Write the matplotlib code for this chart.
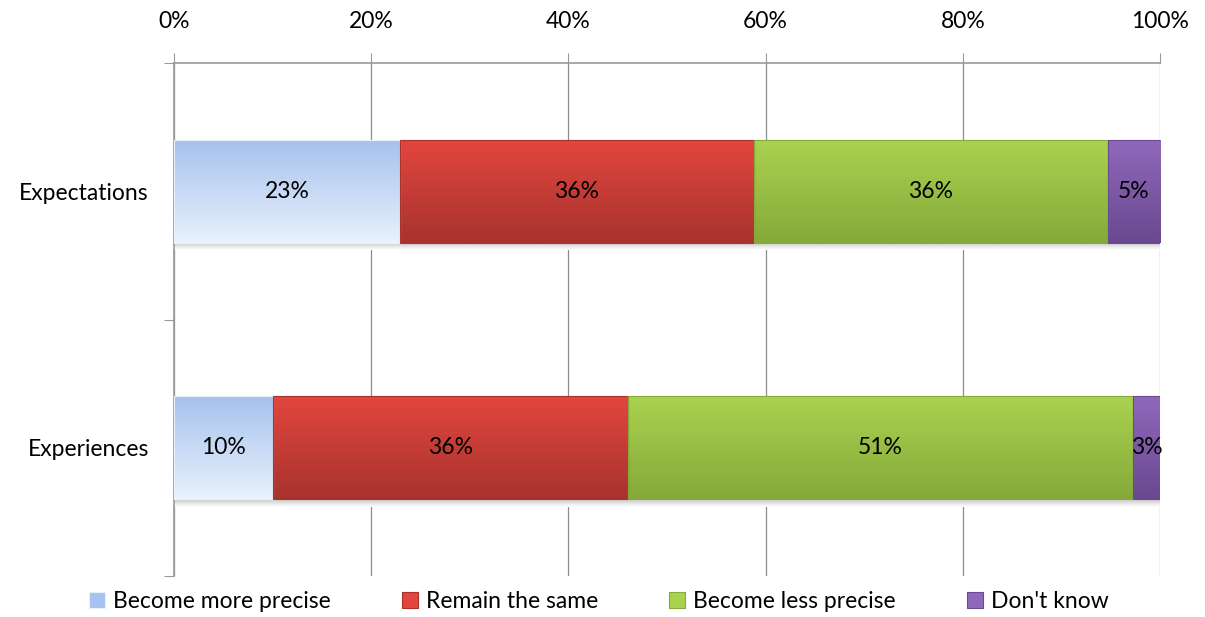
import matplotlib

matplotlib.use("Agg")

import matplotlib.pyplot as plt
import numpy as np
from matplotlib.colors import LinearSegmentedColormap
from matplotlib.patches import Patch

plt.rcParams["font.family"] = ["Lato", "DejaVu Sans"]

categories = ["Expectations", "Experiences"]
series = ["Become more precise", "Remain the same", "Become less precise", "Don't know"]
values = [
    [22.9, 35.9, 35.9, 5.3],   # Expectations
    [10.0, 36.0, 51.3, 2.7],   # Experiences
]
labels = [
    ["23%", "36%", "36%", "5%"],
    ["10%", "36%", "51%", "3%"],
]
# gradient colours, top -> bottom
grad_colors = [
    ("#a7c2ee", "#e9f1fc"),
    ("#e2463f", "#a8332d"),
    ("#aad24f", "#86a93a"),
    ("#9068bb", "#69498f"),
]
xticks = [0, 20, 40, 60, 80, 100]
fs = 16.5

fig = plt.figure(figsize=(12.05, 6.17), dpi=100)
ax = fig.add_axes([174 / 1205, 41 / 617, 986 / 1205, 513 / 617])

# category i sits at y = i (top first)
ypos = [0, 1]
bar_h = 0.4

for i, row in enumerate(values):
    y = ypos[i]
    left = 0
    # soft shadow below bar
    sh = LinearSegmentedColormap.from_list("s", ["#c8c8c8", "#ffffff"])
    ax.imshow(np.linspace(0, 1, 16).reshape(-1, 1), cmap=sh, aspect="auto",
              extent=(0, sum(row), y + bar_h / 2 + 0.03, y + bar_h / 2), zorder=2)
    for j, v in enumerate(row):
        cmap = LinearSegmentedColormap.from_list("g", grad_colors[j])
        grad = np.linspace(0, 1, 64).reshape(-1, 1)
        ax.imshow(grad, cmap=cmap, aspect="auto", interpolation="bilinear",
                  extent=(left, left + v, y + bar_h / 2, y - bar_h / 2), zorder=3)
        ax.add_patch(plt.Rectangle((left, y - bar_h / 2), v, bar_h, fill=False,
                                   edgecolor=grad_colors[j][1], lw=0.8, zorder=4))
        ax.text(left + v / 2, y, labels[i][j], ha="center", va="center",
                fontsize=fs, color="black", zorder=5)
        left += v

ax.set_aspect("auto")
ax.set_xlim(0, 100)
ax.set_ylim(1.5, -0.5)

ax.xaxis.tick_top()
ax.set_xticks(xticks)
ax.set_xticklabels([f"{t}%" for t in xticks], fontsize=fs)
ax.tick_params(axis="x", length=7, color="#999999", pad=15)
ax.set_yticks([-0.5, 0.5, 1.5])
ax.set_yticklabels([])
ax.set_yticks(ypos, minor=True)
ax.set_yticklabels(categories, minor=True, fontsize=fs)
ax.tick_params(axis="y", which="major", length=7, color="#999999")
ax.tick_params(axis="y", which="minor", length=0, pad=18)

ax.grid(axis="x", color="#8c8c8c", lw=0.9, zorder=0)
ax.set_axisbelow(True)
for side in ["right", "bottom"]:
    ax.spines[side].set_visible(False)
for side in ["left", "top"]:
    ax.spines[side].set_color("#999999")
    ax.spines[side].set_linewidth(1.2)

handles = [Patch(facecolor=c[0], edgecolor=c[1], lw=0.8) for c in grad_colors]
fig.legend(handles, series, loc="lower center", bbox_to_anchor=(0.497, -0.025), ncol=4,
           frameon=False, fontsize=fs, handlelength=0.7, handleheight=0.7,
           handletextpad=0.35, columnspacing=3.1)

fig.savefig("out.png", dpi=100)
